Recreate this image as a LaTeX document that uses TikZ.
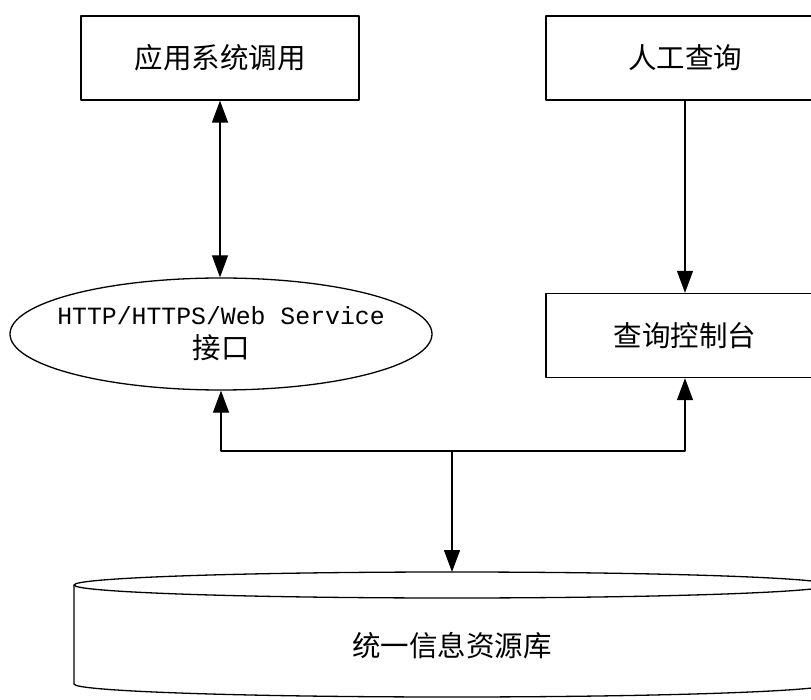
\documentclass[tikz,border=0pt]{standalone}
\usepackage{fontspec}
\setmainfont{Noto Sans CJK SC}
\setmonofont{Liberation Mono}
\usetikzlibrary{shapes.geometric,arrows.meta}
\tikzset{
  box/.style={draw, minimum width=278pt, minimum height=84pt, inner sep=0pt},
  port/.style={draw, ellipse, minimum width=422pt, minimum height=112pt, inner xsep=-14.5pt, inner ysep=0pt, align=center}
}
\begin{document}
\begin{tikzpicture}[x=1pt, y=-1pt, line width=1.3pt, line join=round, >={Triangle[length=22pt,width=16pt]}, font=\fontsize{28.5}{34}\selectfont]
  \def\dbx{452} \def\dbl{74} \def\rx{378} \def\ry{13} % database drum
  \useasboundingbox (0,0) rectangle (811,700);
  \node[box] (app) at (220,58) {应用系统调用};
  \node[box] (manual) at (685,58) {人工查询};
  \node[box] (console) at (685,335.5) {查询控制台};
  \node[port] (iface) at (221,334) {{\ttfamily\fontsize{24.8}{34}\selectfont HTTP/HTTPS/Web Service}\\接口};
  % drum
  \draw (\dbx,585) ellipse [x radius=\rx, y radius=\ry];
  \draw (\dbl,585) -- (\dbl,684) arc [start angle=180, end angle=0, x radius=\rx, y radius=\ry];
  \node (db) at (\dbx,646) {统一信息资源库};
  \coordinate (dbtop) at (\dbx,572);
  \coordinate (hub) at (\dbx,451);
  \draw[<->] (app) -- (app |- iface.north);
  \draw[->] (manual) -- (console);
  \draw[->] (hub) -| (iface.south);
  \draw[->] (hub) -| (console.south);
  \draw[->] (hub) -- (dbtop);
\end{tikzpicture}
\end{document}
